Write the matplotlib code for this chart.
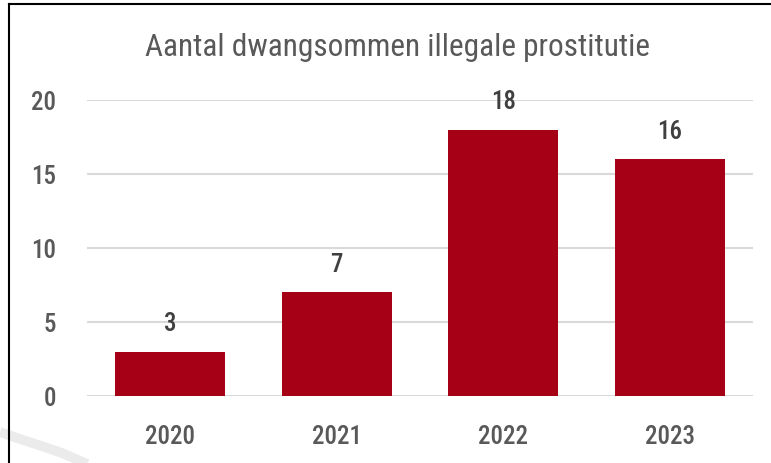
import matplotlib.pyplot as plt
from matplotlib.lines import Line2D

# Data
years = ['2020', '2021', '2022', '2023']
counts = [3, 7, 18, 16]
y_ticks = [0, 5, 10, 15, 20]

BAR_COLOR = '#A50016'
TEXT_COLOR = '#595959'
GRID_COLOR = '#D9D9D9'

plt.rcParams['font.family'] = ['Liberation Sans Narrow', 'Roboto Condensed', 'DejaVu Sans']
plt.rcParams['font.weight'] = 'medium'

fig = plt.figure(figsize=(7.71, 4.64), dpi=100)
fig.patch.set_facecolor('white')

# faint decorative arc in the lower-left corner (slide background)
fig.add_artist(Line2D([0, 20, 40, 62, 85, 100], [31, 24, 17.5, 10, 0, -6],
                      transform=None, color='#EBEBEB', linewidth=7,
                      solid_capstyle='butt', zorder=0))
# frame: top and left border lines
fig.add_artist(Line2D([8.5, 8.5], [0, 459], transform=None, color='black', linewidth=1.5))
fig.add_artist(Line2D([8.5, 771], [459, 459], transform=None, color='black', linewidth=1.5))

ax = fig.add_axes([87 / 771, 1 - 397 / 464, 666 / 771, 296 / 464])
ax.set_facecolor('none')

x = range(len(years))
bars = ax.bar(x, counts, width=0.66, color=BAR_COLOR, zorder=3)

for xi, v in zip(x, counts):
    ax.annotate(str(v), (xi, v), xytext=(0, 12), textcoords='offset points',
                ha='center', va='bottom', fontsize=18, color='#404040')

ax.set_xlim(-0.5, 3.5)
ax.set_ylim(0, 20)
ax.set_yticks(y_ticks)
ax.set_xticks(list(x))
ax.set_xticklabels(years)
ax.yaxis.grid(True, color=GRID_COLOR, linewidth=1.5, zorder=0)
ax.tick_params(axis='both', length=0, labelsize=18, labelcolor=TEXT_COLOR)
ax.tick_params(axis='y', pad=22)
ax.tick_params(axis='x', pad=20)
for s in ax.spines.values():
    s.set_visible(False)

fig.text(0.515, 1 - 48 / 464, 'Aantal dwangsommen illegale prostitutie',
         ha='center', va='center', fontsize=22.5, fontweight='normal',
         color=TEXT_COLOR)

fig.savefig('out.png', dpi=100)
